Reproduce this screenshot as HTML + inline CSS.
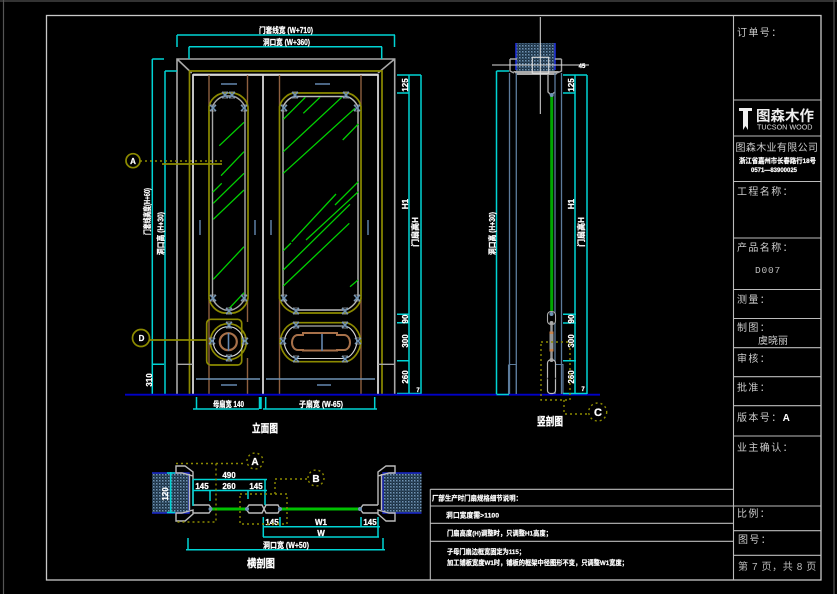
<!DOCTYPE html>
<html><head><meta charset="utf-8"><style>
html,body{margin:0;padding:0;background:#000;width:837px;height:594px;overflow:hidden}
svg{display:block}
text{font-family:"Liberation Sans","Noto Sans CJK SC",sans-serif;fill:#fff}
.d{font-size:8px;font-weight:bold;text-anchor:middle;stroke:#fff;stroke-width:.25}
.t{font-size:10px;fill:#ccc;letter-spacing:1.4px}
.n{font-size:6.8px;font-weight:bold;stroke:#fff;stroke-width:.2}
.cap{font-size:11px;font-weight:bold;stroke:#fff;stroke-width:.3}
.c{fill:none;stroke:#00d4d4;stroke-width:1.5}
.o{fill:none;stroke:#8c8a00;stroke-width:1.7}
.od{fill:none;stroke:#8c8a00;stroke-width:1.4;stroke-dasharray:2 3}
.g{fill:none;stroke:#a8a8a8;stroke-width:1.4}
.w{fill:none;stroke:#d8d8d8;stroke-width:1.6}
.b{fill:none;stroke:#8f6040;stroke-width:1.4}
.bl{fill:none;stroke:#6488b0;stroke-width:1.4}
.gr{fill:none;stroke:#00d000;stroke-width:1.3}
</style></head><body>
<svg width="837" height="594" viewBox="0 0 837 594" xmlns="http://www.w3.org/2000/svg">
<defs>
<pattern id="h" width="3" height="3" patternUnits="userSpaceOnUse"><rect width="3" height="3" fill="#1c3040"/><rect width="1.5" height="1.5" fill="#6f93b5"/><rect x="1.5" y="1.5" width="1" height="1" fill="#446a90"/></pattern>
<g id="x"><path d="M-3-3L3 3M3-3L-3 3" stroke="#6f93b5" stroke-width="1.5"/><path d="M-3-3H3M-3 3H3" stroke="#a0a8b0" stroke-width=".8"/></g>
</defs>
<rect width="837" height="594" fill="#000"/>
<rect x="0" y="0" width="837" height="2" fill="#333"/>
<path d="M3.5 0V594M834 0V594" stroke="#555" stroke-width="1.2"/>
<rect x="46.5" y="15.5" width="774.5" height="564.5" fill="none" stroke="#c8c8c8" stroke-width="1.3"/>

<!-- title block -->
<path d="M733.5 15.5V580M733.5 100H821M733.5 136H821M733.5 181.5H821M733.5 238H821M733.5 289.5H821M733.5 318.5H821M733.5 347.7H821M733.5 376.7H821M733.5 405.7H821M733.5 436H821M733.5 506H821M733.5 530.7H821M733.5 555.3H821" stroke="#bbb" stroke-width="1.1" fill="none"/>
<path d="M430.3 489.3H733.5M430.3 489.3V580M430.3 506H733.5M430.3 523.3H733.5M430.3 541.3H733.5" stroke="#bbb" stroke-width="1.1" fill="none"/>
<text class="t" x="737" y="36">订单号：</text>
<path d="M739 108H752V111H748V130L745.500 126L743 130V111H739Z" fill="#eee"/>
<text x="756" y="121" style="font-size:14.500px;font-weight:bold;fill:#eee">图森木作</text>
<text x="757" y="129.500" style="font-size:7.200px;fill:#ddd">TUCSON WOOD</text>
<text x="735.500" y="151" style="font-size:10px;fill:#ccc;letter-spacing:.35px">图森木业有限公司</text>
<text class="n" x="739" y="163" textLength="77" lengthAdjust="spacingAndGlyphs">浙江省嘉州市长春路行18号</text>
<text class="n" x="751" y="172" textLength="46" lengthAdjust="spacingAndGlyphs">0571—83900025</text>
<text class="t" x="737" y="195">工程名称：</text>
<text class="t" x="737" y="251">产品名称：</text>
<text x="755" y="273" style="font-size:9.500px;fill:#bbb;font-family:'Liberation Mono',monospace;letter-spacing:.8px">D007</text>
<text class="t" x="737" y="303">测量：</text>
<text class="t" x="737" y="331">制图：</text>
<text x="758" y="344" style="font-size:10px;fill:#ccc">虞晓丽</text>
<text class="t" x="737" y="362">审核：</text>
<text class="t" x="737" y="391">批准：</text>
<text class="t" x="737" y="421">版本号：<tspan style="fill:#fff;font-weight:bold">A</tspan></text>
<text class="t" x="737" y="451">业主确认：</text>
<text class="t" x="737" y="517">比例：</text>
<text class="t" x="738" y="543">图号：</text>
<text x="738" y="570" style="font-size:10px;fill:#bbb;letter-spacing:.6px">第 7 页，共 8 页</text>

<!-- notes -->
<text class="n" x="432" y="500.500" textLength="90" lengthAdjust="spacingAndGlyphs">厂部生产时门扇规格细节说明：</text>
<text class="n" x="446" y="517.500" textLength="53" lengthAdjust="spacingAndGlyphs">洞口宽度需&gt;1100</text>
<text class="n" x="447" y="535.500" textLength="105" lengthAdjust="spacingAndGlyphs">门扇高度(H)调整时，只调整H1高度；</text>
<text class="n" x="447" y="554" textLength="78" lengthAdjust="spacingAndGlyphs">子母门扇边框宽固定为115；</text>
<text class="n" x="447" y="565" textLength="181" lengthAdjust="spacingAndGlyphs">加工铺板宽度W1时，铺板的框架中径图形不变，只调整W1宽度；</text>

<!-- FRONT VIEW -->
<path class="g" d="M177 394V59H394.700V394M177 59L191.700 73M394.700 59L378 73M177 59H394.700" style="stroke-width:1.600"/>
<path class="o" d="M189.500 394V71H382V394"/>
<path class="w" d="M193 394V75H378V394M263 75V394M193 74.500H378" style="stroke-width:1.800"/>
<path class="g" d="M177 364.300H193M378 364.300H394.700"/>
<path class="b" d="M209 75V107M247.500 75V107M209 298V394M247.500 298V322M247.500 358V394M279.500 75V107M361 75V107M279.500 298V394M361 298V394"/>
<!-- left glass -->
<path class="o" d="M209 298V107C210 100 216 94 224 93H233C241 94 247 100 248 107V298C247 305 241 312 233 313H224C216 312 210 305 209 298Z"/>
<path class="g" d="M212.500 298V107C214 102 219 97 225 96H232C238 97 243 102 245 107V298C243 303 238 308 232 310H225C219 308 214 303 212.500 298Z"/>
<!-- right glass -->
<path class="o" d="M279.500 298V107C281 100 287 94 293.500 93H347C354 94 360 100 361 107V298C360 305 354 311 347 313H295C287 311 281 305 279.500 298Z"/>
<path class="g" d="M283 298V107C285 102 290 97 295 96.500H346C351 97 356 102 358 107V298C356 303 351 308 346 310H295C290 308 285 303 283 298Z" style="stroke:#bbb"/>
<!-- hatches -->
<path class="gr" d="M219.300 145.700L244 122.300M221 175.700L244 151.700M212.700 192.300L221.700 183.300M213.300 203.300L244 173.300M213.300 219.300L244 190M213.300 279.300L244 246.700M229.300 308.300L244 292.700M283.300 119.300L305.300 97.300M303.300 113.300L320 97.300M283.300 151.700L341.700 97.300M283.300 173.300L355 108.300M342.700 140L358.300 124M335 205L358.300 181.700M291.700 241.700L336 194M306 240L358.300 191.700M283.300 270L350 204.300M283.300 286L349.300 223.300M283.300 250.700L291 243M350 286.700L358 280"/>
<!-- circle panel -->
<rect class="o" x="206.700" y="319.300" width="35" height="45.700" rx="4"/>
<circle class="o" cx="228.300" cy="341.700" r="18"/>
<circle class="w" cx="228.300" cy="341.700" r="15" style="stroke-width:1.100"/>
<circle cx="228.300" cy="341.700" r="8.500" fill="none" stroke="#a8714a" stroke-width="2.200"/>
<path class="bl" d="M228.500 333V351" style="stroke-width:1.600"/>
<!-- lower right panel -->
<path class="o" d="M295 322.700H346C354 324 360 332 361 342C360 351 354 360 346 361.700H295C287 360 281 351 280 342C281 332 287 324 295 322.700Z"/>
<path class="w" d="M296 326H345C351 327 356 334 357 342C356 350 351 357 345 358.500H296C290 357 285 350 284 342C285 334 290 327 296 326Z" style="stroke-width:1.100"/>
<path d="M303 335V333H337V335H344C348 335 350 339 350 342.500C350 346 348 350 344 350H337V350.500H303V350H298C294 350 292 346 292 342.500C292 339 294 335 298 335Z" fill="none" stroke="#a8714a" stroke-width="2"/>
<path class="bl" d="M322 334V351" style="stroke-width:1.600"/>
<!-- ornaments -->
<use href="#x" x="213" y="108"/><use href="#x" x="244" y="108"/><use href="#x" x="225" y="95"/><use href="#x" x="232" y="95"/>
<use href="#x" x="213" y="298"/><use href="#x" x="244" y="298"/><use href="#x" x="229" y="311"/>
<use href="#x" x="284" y="108"/><use href="#x" x="357" y="108"/><use href="#x" x="295" y="95"/><use href="#x" x="346" y="95"/>
<use href="#x" x="284" y="298"/><use href="#x" x="357" y="298"/><use href="#x" x="296" y="311"/><use href="#x" x="345" y="311"/>
<use href="#x" x="229" y="325"/><use href="#x" x="229" y="358"/><use href="#x" x="212" y="341"/><use href="#x" x="245" y="341"/>
<use href="#x" x="296" y="325"/><use href="#x" x="345" y="325"/><use href="#x" x="296" y="359"/><use href="#x" x="345" y="359"/><use href="#x" x="283" y="341"/><use href="#x" x="358" y="341"/>
<!-- kick + handles -->
<path d="M196 379H260M266 379H375" stroke="#6f93b5" stroke-width="1.600" fill="none"/>
<path class="bl" d="M221 84H237M315 84H330M221 385H237M317 385H331M200 220V235M255 220V235M271 220V235M368 220V235"/>

<!-- top dims -->
<path class="c" d="M177 35H395M177 35V47M394.500 35V47M189 46.700H382M189 46.700V59M381.700 46.700V59"/>
<text class="d" x="286" y="33" textLength="54" lengthAdjust="spacingAndGlyphs">门套线宽 (W+710)</text>
<text class="d" x="286.500" y="45" textLength="47" lengthAdjust="spacingAndGlyphs">洞口宽 (W+360)</text>
<!-- left dims -->
<path class="c" d="M152.300 59V394M152.300 59H164M165 71V394M165 71H177M152.300 364.300H164"/>
<text class="d" transform="translate(150 211.500) rotate(-90)" textLength="47" lengthAdjust="spacingAndGlyphs">门套线高度(H+60)</text>
<text class="d" transform="translate(163.500 233.500) rotate(-90)" textLength="43" lengthAdjust="spacingAndGlyphs">洞口高 (H+30)</text>
<text class="d" transform="translate(152 380) rotate(-90)">310</text>
<!-- right dims -->
<path class="c" d="M409 75V394M421 75V394M397 75H421M397 93H409M397 314.300H409M397 322.700H409M397 360.700H409M397 393.500H421"/>
<text class="d" transform="translate(408 85) rotate(-90)">125</text>
<text class="d" transform="translate(408 204) rotate(-90)">H1</text>
<text class="d" transform="translate(418 232) rotate(-90)">门扇高H</text>
<text class="d" transform="translate(408 319) rotate(-90)">90</text>
<text class="d" transform="translate(408 341) rotate(-90)">300</text>
<text class="d" transform="translate(408 377) rotate(-90)">260</text>
<text class="d" x="418" y="392" style="font-size:6px">7</text>
<!-- bottom dims -->
<path class="c" d="M193 409H259M263 409H377M196.500 397V409M259.500 397V409M261 397V409M265.700 397V409M374.700 397V409"/>
<text class="d" x="228.500" y="407" textLength="31" lengthAdjust="spacingAndGlyphs">母扇宽 140</text>
<text class="d" x="321" y="407" textLength="44" lengthAdjust="spacingAndGlyphs">子扇宽 (W-65)</text>
<text class="cap" x="252" y="432" textLength="26" lengthAdjust="spacingAndGlyphs">立面图</text>
<!-- callouts front -->
<circle class="o" cx="133" cy="160.700" r="7"/>
<text class="d" x="133" y="164">A</text>
<path class="od" d="M140 161H224"/>
<path class="o" d="M162 164H222M149.500 340H206.700"/>
<circle class="o" cx="141" cy="338" r="8.500"/>
<text class="d" x="141.500" y="341">D</text>

<!-- ground -->
<path d="M125 394.700H600" stroke="#0000c8" stroke-width="1.800"/>

<!-- SIDE SECTION -->
<rect x="516" y="43" width="39" height="28" fill="url(#h)"/>
<path d="M516 43V70M555 43V70" stroke="#2030e0" stroke-width="1.500"/>
<path d="M510 59H517M561.500 59H555M510 59V71L514 73M561.500 59V71L557 73" class="g"/>
<path d="M513 71H559L556 75H517Z" fill="#aaa"/>
<path d="M492 65H589M540.300 17V114" stroke="#ddd" stroke-width="1" fill="none"/>
<rect x="532.300" y="57.300" width="16.400" height="16" fill="none" stroke="#ddd" stroke-width="1.100"/>
<path class="g" d="M548 75V92L551 95L555 92"/>
<path d="M509.500 73V394M516.300 73V394M555 73V394M561.500 73V394" stroke="#5d7c9c" stroke-width="1.300" fill="none"/>
<path d="M509 364.500H516.300V394M508.500 364.500V394M555 364.500H563V394" stroke="#5d7c9c" stroke-width="1.100" fill="none"/>
<path d="M551.700 95V311" stroke="#00a800" stroke-width="3"/>
<circle cx="551.700" cy="95" r="2" fill="#6f93b5"/>
<!-- mullion -->
<rect x="547.500" y="311.500" width="8" height="13" rx="3.500" fill="#000" stroke="#aaa" stroke-width="1.100"/>
<path d="M551.500 322V360" stroke="#999" stroke-width="2.500"/>
<rect x="549.500" y="333" width="4" height="17" fill="#999"/>
<rect x="549.500" y="331.500" width="4" height="2.500" fill="#c8844f"/><rect x="549.500" y="349" width="4" height="2.500" fill="#c8844f"/>
<rect x="547.500" y="360" width="8" height="33.500" rx="3" fill="#000" stroke="#bbb" stroke-width="1.200"/>
<path d="M547.500 378.500H555.500" stroke="#000" stroke-width="1.500"/>
<circle cx="551.500" cy="314" r="2" fill="#6f93b5"/>
<circle cx="551.500" cy="360" r="2" fill="#aaa"/><circle cx="551.500" cy="323" r="2" fill="#aaa"/>
<!-- side dims -->
<path class="c" d="M496.500 71V394M496.500 71H509M496.500 394.500H509M575 75V394M587 75V394M563 75H587M563 93H575M563 314.300H576M563 323H576M563 360.700H576M563 393.500H587"/>
<text class="d" transform="translate(495 233.500) rotate(-90)" textLength="43" lengthAdjust="spacingAndGlyphs">洞口高 (H+30)</text>
<text class="d" transform="translate(574 85) rotate(-90)">125</text>
<text class="d" transform="translate(574 204) rotate(-90)">H1</text>
<text class="d" transform="translate(584 232) rotate(-90)">门扇高H</text>
<text class="d" transform="translate(574 319) rotate(-90)">90</text>
<text class="d" transform="translate(574 341) rotate(-90)">300</text>
<text class="d" transform="translate(574 377) rotate(-90)">260</text>
<text class="d" x="583" y="391" style="font-size:6px">7</text>
<text class="d" x="582" y="68" style="font-size:6px">45</text>
<path class="od" d="M541 342H570V400H541ZM564 400V414H590"/>
<circle class="od" cx="597.700" cy="412" r="9"/>
<text class="d" x="598" y="416" style="font-size:11px">C</text>
<text class="cap" x="537" y="425" textLength="26" lengthAdjust="spacingAndGlyphs">竖剖图</text>

<!-- PLAN -->
<rect x="152" y="473" width="37" height="39.500" fill="url(#h)"/>
<rect x="383" y="473" width="38.500" height="39.500" fill="url(#h)"/>
<path d="M152 473H189V513H152M421.500 473H383V513H421.500" stroke="#1a28d0" stroke-width="1.400" fill="none"/>
<g class="g" style="stroke:#bbb;stroke-width:1.400">
<path d="M176 466H185L193 472V476L182 473H176ZM176 513H182L193 510V514L185 521H176ZM189.500 474V510M193 476V505" fill="none"/>
<path d="M395 466H386L378 472V476L389 473H395ZM395 513H389L378 510V514L386 521H395ZM381.500 474V510M378 476V505" fill="none"/>
<path d="M193 505H209L212 509L209 513H193M246 509L249 505H262L264 509L262 513H249ZM264 509L266 505H278L280 509L278 513H266ZM378 505H363L360 509L363 513H378" fill="none"/>
</g>
<rect x="212" y="507.500" width="34" height="3" fill="#00c000"/>
<rect x="280" y="507.500" width="80" height="3" fill="#00c000"/>
<circle cx="210.500" cy="509" r="2" fill="#6f93b5"/><circle cx="247" cy="509" r="2" fill="#6f93b5"/><circle cx="280" cy="509" r="2" fill="#6f93b5"/><circle cx="360" cy="509" r="2" fill="#6f93b5"/>
<path class="c" d="M193 479.500H267M193 490.500H267M193 479.500V506M210 490.500V501M248 490.500V499M265 479.500V505M170.700 472V513M167 473H175M167 512.500H175M263 526.700H380M263 537H379M263.300 517V537M280 517V527M361 517V527M378 517V537M186 549.700H385M188 538V550M383 538V550"/>
<text class="d" x="229" y="478">490</text>
<text class="d" x="202" y="489">145</text>
<text class="d" x="229" y="489">260</text>
<text class="d" x="256" y="489">145</text>
<text class="d" transform="translate(168 494) rotate(-90)">120</text>
<text class="d" x="272" y="525">145</text>
<text class="d" x="321" y="525">W1</text>
<text class="d" x="370" y="525">145</text>
<text class="d" x="321" y="536">W</text>
<text class="d" x="286" y="548" textLength="46" lengthAdjust="spacingAndGlyphs">洞口宽 (W+50)</text>
<text class="cap" x="247" y="567" textLength="28" lengthAdjust="spacingAndGlyphs">横剖图</text>
<path class="od" d="M176 463.500H216V522H176M216 463.500H246M240 494H287V524H240ZM275 494V479H307"/>
<circle class="od" cx="255" cy="461" r="8"/>
<circle class="od" cx="316" cy="478" r="8"/>
<text class="d" x="255" y="465" style="font-size:10px">A</text>
<text class="d" x="316" y="482" style="font-size:10px">B</text>
</svg>
</body></html>
